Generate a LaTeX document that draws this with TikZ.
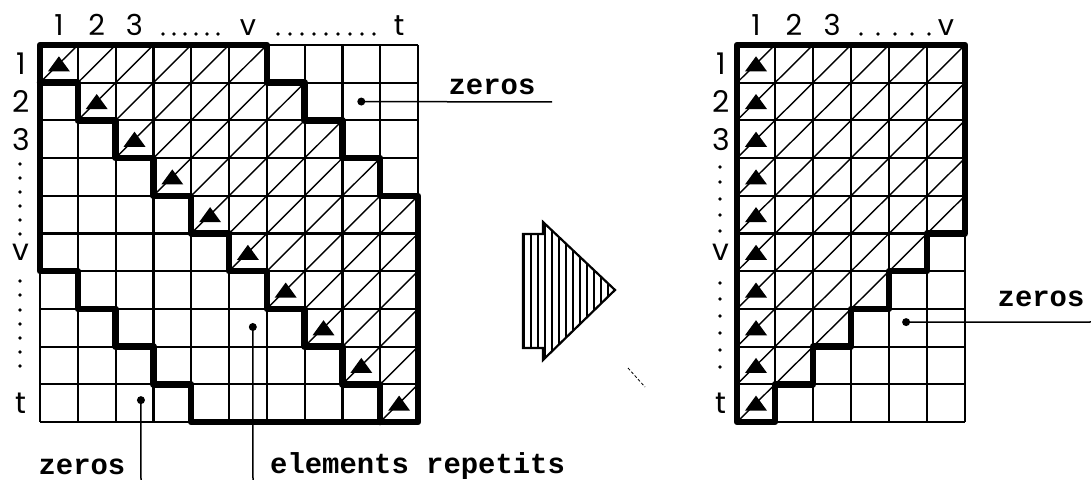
\documentclass[tikz,border=0pt]{standalone}
\usepackage{fontspec}
\setmainfont{Poppins}
\setmonofont{Liberation Mono}
\usepackage{tikz}

\newcommand{\mytri}[2]{\fill (#1-0.5,#2-0.5) ++(-0.29,0.2) -- ++(0.58,0) -- ++(-0.29,-0.4) -- cycle;}

\begin{document}
\begin{tikzpicture}[x=1bp,y=-1bp]
\tikzset{gridl/.style={line width=2.2bp},
  thk/.style={line width=6.5bp,line join=round,line cap=round},
  hatch/.style={line width=1.4bp},
  d/.style={circle,fill,inner sep=0pt,minimum size=8bp},
  lead/.style={line width=1.5bp},
  lab/.style={font=\fontsize{29}{30}\selectfont\ttfamily\bfseries,inner sep=0pt},
  num/.style={font=\fontsize{29}{31}\selectfont,inner sep=0pt},
  rnum/.style={font=\fontsize{30}{32}\selectfont,inner sep=0pt}}
\useasboundingbox (0,0) rectangle (1091,480);

% band matrix
\begin{scope}[shift={(40bp,-45bp)},x=37.8bp,y=-37.7bp]
\foreach \r in {1,...,10} {
  \pgfmathtruncatemacro\last{min(\r+5,10)}
  \foreach \c in {\r,...,\last} \draw[hatch] (\c-1,\r) -- (\c,\r-1);
  \mytri{\r}{\r}
}
\foreach \i in {0,...,10} {
  \draw[gridl] (\i,0) -- (\i,10);
  \draw[gridl] (0,\i) -- (10,\i);
}
\draw[thk] (0,0) -| (6,1) -| (7,2) -| (8,3) -| (9,4) -| (10,10) -| (4,9) -| (3,8) -| (2,7) -| (1,6) -- (0,6) -- cycle;
\draw[thk] (0,1) \foreach \k in {1,...,9} { -| (\k,\k+1) };
\foreach \i/\t in {1/1,2/2,3/3,6/v,10/t}
  \node[num,anchor=base] (L-c\i) at (\i-0.5,-0.24) {\t};
\foreach \i/\t in {1/1,2/2,3/3,6/v,10/t}
  \node[rnum] (L-r\i) at (-0.5,\i-0.5) {\t};
\node[d] (zA) at (8.5,1.5) {};
\node[d] (zC) at (2.67,9.42) {};
\node[d] (zD) at (5.63,7.48) {};
\end{scope}

% reduced matrix
\begin{scope}[shift={(737bp,-45bp)},x=38bp,y=-37.7bp]
\foreach \r in {1,...,10} {
  \pgfmathtruncatemacro\last{min(6,11-\r)}
  \foreach \c in {1,...,\last} \draw[hatch] (\c-1,\r) -- (\c,\r-1);
  \mytri{1}{\r}
}
\foreach \i in {0,...,6} \draw[gridl] (\i,0) -- (\i,10);
\foreach \i in {0,...,10} \draw[gridl] (0,\i) -- (6,\i);
\draw[thk] (0,0) -| (6,5) -| (5,6) -| (4,7) -| (3,8) -| (2,9) -| (1,10) -- (0,10) -- cycle;
\foreach \i/\t in {1/1,2/2,3/3,6/v}
  \node[num,anchor=base] (R-c\i) at (\i-0.5,-0.24) {\t};
\foreach \i/\t in {1/1,2/2,3/3,6/v,10/t}
  \node[rnum] (R-r\i) at (-0.42,\i-0.5) {\t};
\node[d] (zB) at (4.45,7.35) {};
\end{scope}

% dots of the index rows
\foreach \x in {163,174,185,196,207,218} \fill (\x,34) circle (1.8);
\foreach \x in {278,290,302,314,326,338,350,362,374} \fill (\x,34) circle (1.8);
\foreach \x in {861,878,895,912,929} \fill (\x,34) circle (1.8);
\foreach \y in {164,178,192,206,220,234} \fill (20,\y) circle (1.8);
\foreach \y in {281,295,310,324,338,352,366} \fill (20,\y) circle (1.8);
\foreach \y in {167,182,199,215,231} \fill (720,\y) circle (1.8);
\foreach \y in {283,299,316,333,350,367} \fill (720,\y) circle (1.8);

% block arrow
\begin{scope}
\clip (523,234) -- (543,234) -- (543,222) -- (615,290) -- (543,360) -- (543,348) -- (523,348) -- cycle;
\foreach \x in {524,531,...,616} \draw[line width=2.6bp] (\x,215) -- (\x,365);
\end{scope}
\draw[line width=2.2bp] (523,234) -- (543,234) -- (543,222) -- (615,290) -- (543,360) -- (543,348) -- (523,348) -- cycle;
\draw[line width=0.8bp,dash pattern=on 3bp off 2bp] (628,368) -- (645,387);

% labels
\coordinate (zA-end) at (552,102);
\coordinate (zB-end) at (1091,322);
\coordinate (zC-end) at (141,480);
\coordinate (zD-end) at (253,480);
\draw[lead] (zA.center) -- (zA-end);
\draw[lead] (zB.center) -- (zB-end);
\draw[lead] (zC.center) -- (zC-end);
\draw[lead] (zD.center) -- (zD-end);
\node[lab,anchor=base] (zA-lab) at (492,95) {zeros};
\node[lab,anchor=base] (zB-lab) at (1041,307) {zeros};
\node[lab,anchor=base] (zC-lab) at (82,474) {zeros};
\node[lab,anchor=base west] (zD-lab) at (270,473) {elements repetits};
\end{tikzpicture}
\end{document}
